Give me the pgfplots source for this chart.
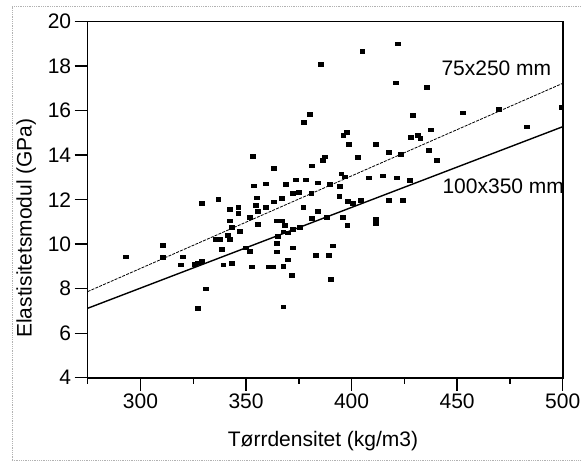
\documentclass[border=0pt]{standalone}
\usepackage{pgfplots}
\pgfplotsset{compat=1.18}
\usepackage{pgfplotstable}
\usepackage{fontspec}
\setmainfont{Liberation Sans}
\pgfplotstableread{
x y
293.0 9.44
310.6 9.96
310.6 9.42
318.9 9.07
320.0 9.44
327.1 7.12
331.0 8.00
325.8 9.11
327.2 9.17
328.9 9.24
329.0 11.84
336.8 12.02
335.7 10.23
337.6 10.23
341.5 10.41
342.3 10.23
338.6 9.78
339.2 9.07
343.4 9.14
343.1 10.77
347.1 10.59
342.3 11.57
346.3 11.65
346.3 11.40
342.3 11.06
353.1 13.96
353.7 12.63
359.4 12.72
363.2 13.42
355.0 12.09
354.4 11.75
355.7 11.49
359.4 11.65
351.8 11.21
355.6 10.91
349.9 9.84
351.8 9.69
352.6 8.99
360.8 8.99
362.7 8.99
366.8 12.08
363.2 11.91
368.8 12.71
373.4 12.89
378.3 12.89
384.0 12.77
372.3 12.28
375.1 12.33
380.9 12.29
364.4 11.06
366.8 11.06
368.4 10.86
365.2 10.37
367.6 10.56
369.9 10.52
372.3 10.67
375.5 10.77
364.7 10.04
364.7 9.67
372.3 9.85
369.7 9.31
367.6 9.02
371.5 8.60
367.6 7.19
383.0 9.51
389.3 9.50
391.2 9.93
390.1 8.44
397.9 10.85
411.4 10.94
411.3 11.12
377.1 11.65
383.8 11.49
381.0 11.16
388.1 11.21
395.6 11.21
394.1 12.17
398.2 11.92
400.7 11.85
404.3 11.99
417.6 11.99
424.2 11.99
389.7 12.71
394.4 12.62
395.1 13.16
396.8 13.03
408.1 12.98
414.9 13.07
421.4 12.99
427.6 12.88
381.3 13.52
387.3 13.93
386.5 13.78
402.7 13.90
417.6 14.13
423.4 14.05
398.8 14.49
411.3 14.49
396.0 14.91
397.7 15.04
377.4 15.49
380.2 15.84
385.3 18.08
405.0 18.68
421.7 19.02
420.8 17.26
435.7 17.05
429.1 15.81
452.5 15.91
469.8 16.06
499.3 16.17
482.8 15.28
437.5 15.15
428.2 14.80
431.3 14.91
432.5 14.77
436.4 14.23
440.2 13.77
}\datatable
\begin{document}
\begin{tikzpicture}[font=\fontsize{21bp}{25bp}\selectfont]
\useasboundingbox (-87.7bp,-90.3bp) rectangle (493.3bp,377.7bp);
\draw[gray!60, densely dotted, line width=0.8bp] (-75.7bp,-82.3bp) -- (-75.7bp,371.7bp) -- (500bp,371.7bp);
\draw[gray!60, densely dotted, line width=0.8bp] (-75.7bp,-82.3bp) -- (500bp,-82.3bp);
\begin{axis}[
  at={(0,0)}, anchor=south west,
  scale only axis, width=475bp, height=356bp,
  xmin=275, xmax=500, ymin=4, ymax=20,
  xtick={300,350,400,450,500},
  minor xtick={275,325,375,425,475},
  ytick={4,6,8,10,12,14,16,18,20},
  xtick pos=lower, ytick pos=left,
  tick align=outside,
  major tick length=13bp, minor tick length=6bp,
  axis line style={line width=1.6bp},
  every tick/.style={black, line width=1.4bp},
  /pgf/number format/assume math mode=true,
  tick label style={font=\fontsize{21bp}{25bp}\selectfont},
  xlabel={Tørrdensitet (kg/m3)},
  ylabel={Elastisitetsmodul (GPa)},
  xlabel style={at={(axis description cs:0.4954,-0.1938)}, anchor=base, inner sep=0pt},
  ylabel style={at={(axis description cs:-0.1179,0.4205)}, anchor=base, inner sep=0pt, rotate=0},
  clip=false,
]
\addplot[only marks, mark=square*, mark size=1.8bp, mark options={xscale=1.35, fill=black, draw=black}] table[x=x, y=y] {\datatable};
\addplot[black, line width=0.8bp, dash pattern=on 3bp off 1.2bp] coordinates {(275,7.87) (500,17.23)};
\addplot[black, line width=1.4bp] coordinates {(275,7.12) (500,15.28)};
\node[anchor=base west, inner sep=0pt] at (axis cs:442.5,17.6) {75x250 mm};
\node[anchor=base west, inner sep=0pt] at (axis cs:443.0,12.26) {100x350 mm};
\end{axis}
\end{tikzpicture}
\end{document}
